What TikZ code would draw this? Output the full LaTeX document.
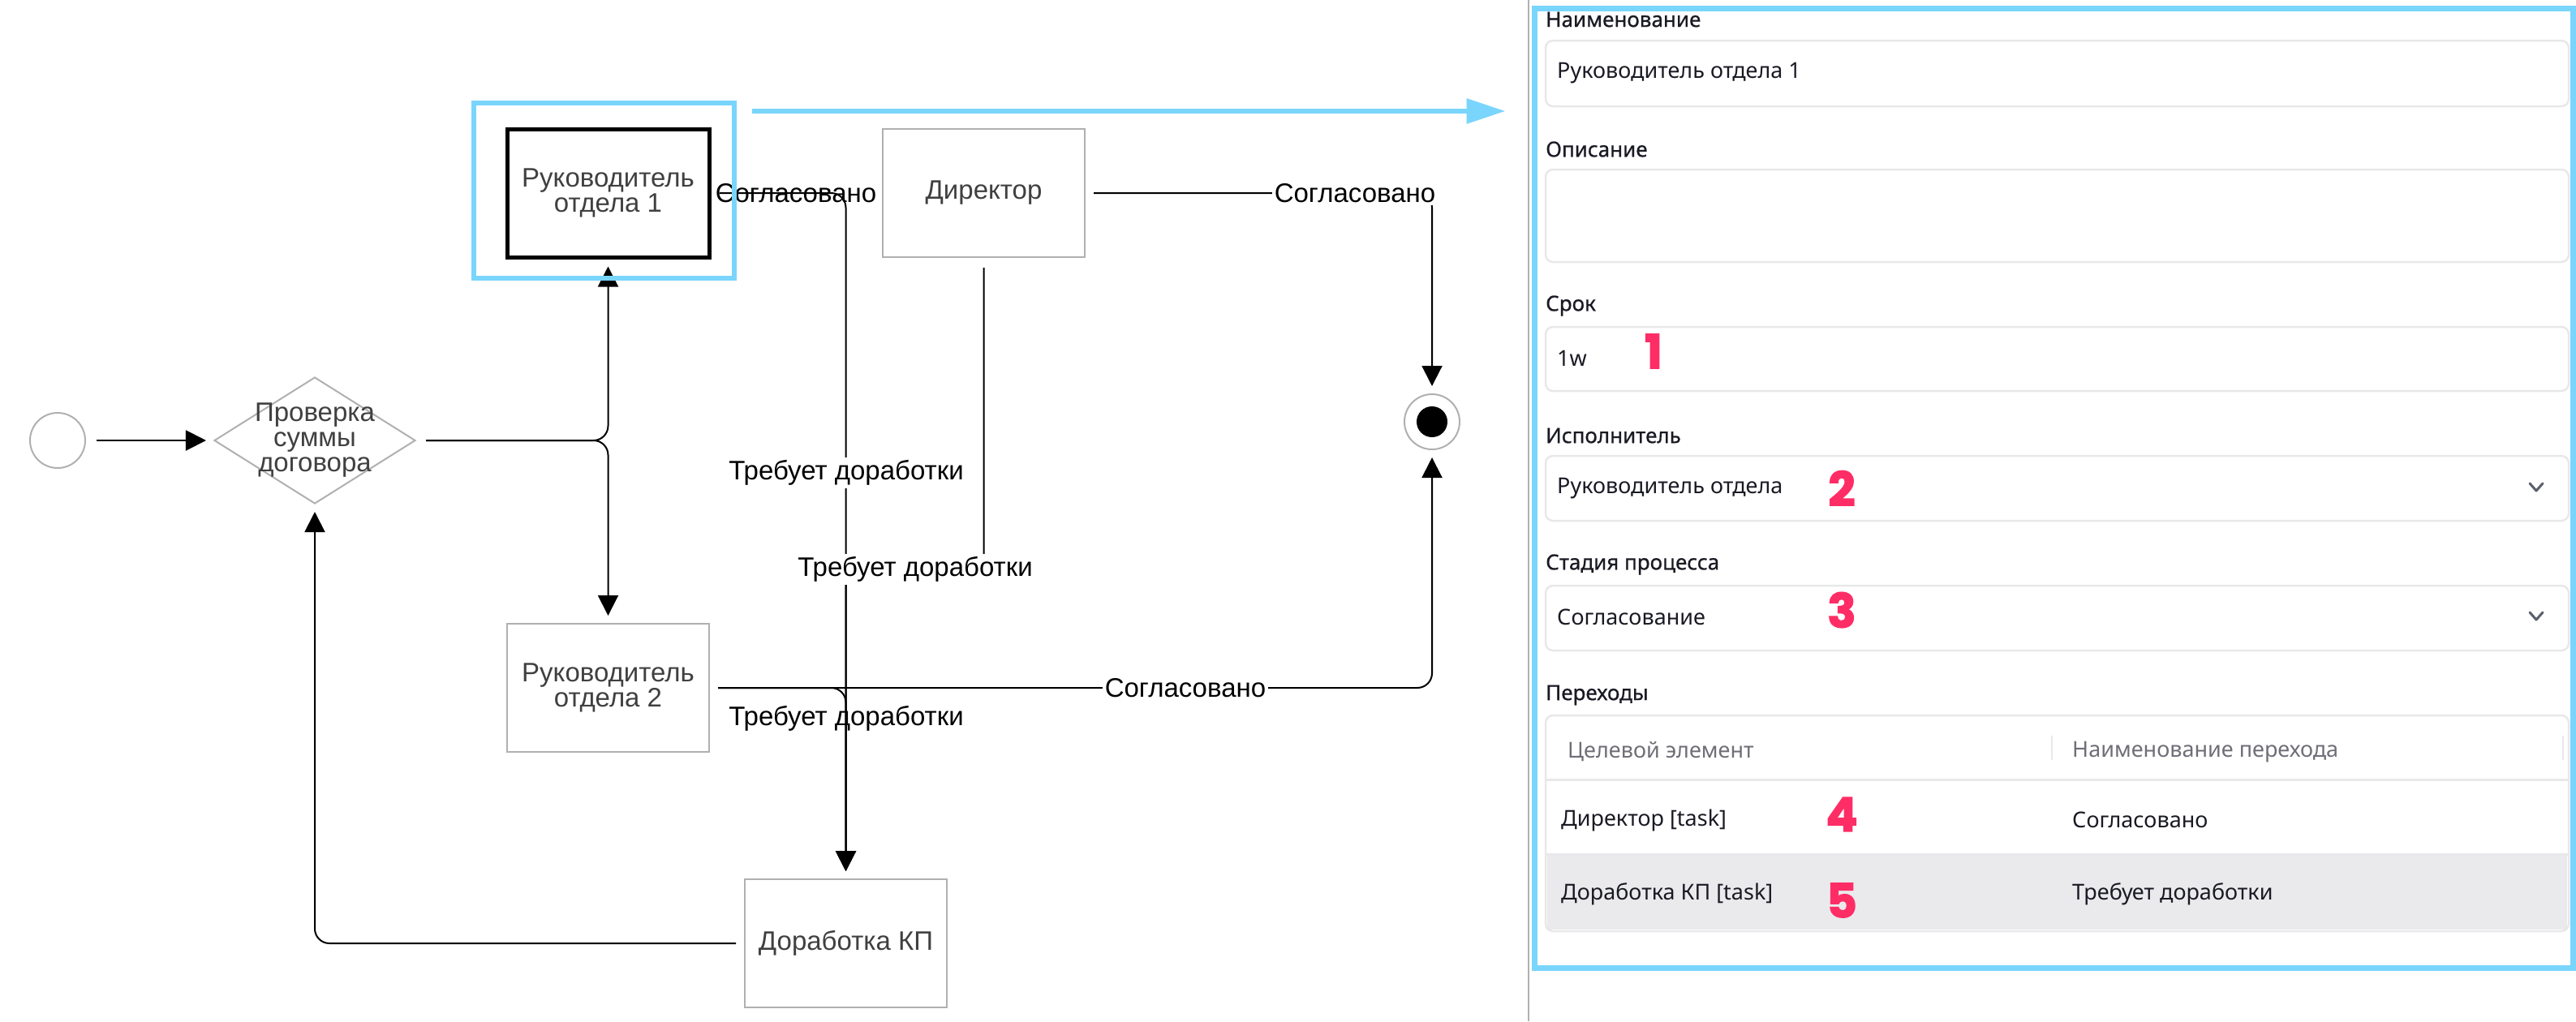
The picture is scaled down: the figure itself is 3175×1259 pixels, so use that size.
\documentclass[tikz,border=0pt]{standalone}
\usepackage{fontspec}
\setmainfont{Liberation Sans}
\newfontfamily\panelfont{Noto Sans}
\newfontfamily\panelheadfont{Noto Sans}[FakeBold=0.7]
\newfontfamily\badgefont{Poppins}[BoldFeatures={FakeBold=2.5}]
\usepackage{xcolor}
\usepackage{tikz}
\usetikzlibrary{arrows.meta,shapes.geometric}

\definecolor{hlblue}{RGB}{122,213,252}
\definecolor{shapegrey}{RGB}{176,176,176}
\definecolor{nodetext}{RGB}{64,64,64}
\definecolor{badgered}{RGB}{255,45,102}
\definecolor{fieldline}{RGB}{232,232,234}
\definecolor{rowgrey}{RGB}{234,234,237}
\definecolor{headtext}{RGB}{110,110,118}
\definecolor{paneltext}{RGB}{26,26,36}
\definecolor{chevron}{RGB}{92,96,108}

\tikzset{
	task/.style={draw=shapegrey, line width=2pt, minimum width=249pt, minimum height=158pt, inner sep=0pt, align=center, text=nodetext, font=\fontsize{33}{31}\selectfont},
	event/.style={circle, draw=shapegrey, line width=2pt, minimum size=68pt, inner sep=0pt},
	flow/.style={draw=black, line width=2pt, rounded corners=18pt, -{Triangle[length=25pt,width=25pt]}, shorten >=9pt, shorten <=10pt},
	lbl/.style={fill=white, inner sep=3pt, font=\fontsize{33}{35}\selectfont},
	field/.style={draw=fieldline, line width=2.5pt, rounded corners=9pt},
	fieldlbl/.style={anchor=west, inner sep=0pt, text=paneltext, font=\panelheadfont\fontsize{26}{28}\selectfont},
	fieldval/.style={anchor=west, inner sep=0pt, text=paneltext, font=\panelfont\fontsize{27}{29}\selectfont},
	badge/.style={inner sep=0pt, text=badgered, font=\badgefont\bfseries\fontsize{58}{58}\selectfont},
	chev/.style={draw=chevron, line width=3pt, line cap=round, line join=round}
}

\begin{document}
\begin{tikzpicture}[x=1pt,y=-1pt]
	\useasboundingbox (0,0) rectangle (3175,1259);

	\node(start) [event] at (71,543) {};
	\node(check) [diamond, draw=shapegrey, line width=2pt, minimum width=248pt, minimum height=156pt, inner sep=0pt, label={[text=nodetext, align=center, font=\fontsize{33}{31}\selectfont]center:Проверка\\суммы\\договора}] at (388,543) {};
	\node(head1) [task, draw=black, line width=5pt] at (749.5,238) {Руководитель\\отдела 1};
	\node(head2) [task] at (749.5,848) {Руководитель\\отдела 2};
	\node(director) [task] at (1212.5,238) {Директор};
	\node(rework) [task] at (1042.5,1163) {Доработка КП};
	\node(finish) [event] at (1765,520) {};
	\node(finishdot) [circle, fill=black, minimum size=38pt, inner sep=0pt] at (finish) {};

	\draw[flow, shorten <=13pt] (start) -- (check);
	\draw[flow, shorten <=12pt] (check) -| (head1);
	\draw[flow, shorten <=12pt] (check) -| (head2);
	\draw[flow] (head1) -- (director);
	\node(okA) [lbl] at (981,238) {Согласовано};
	\draw[flow] (head1) -| (rework);
	\coordinate(dirbend) at (1212.5,702);
	\draw[flow, shorten <=12pt] (director) -- (dirbend) -| (rework);
	\draw[flow] (director) -| (finish);
	\draw[flow] (head2) -| (finish);
	\node(reworkC) [lbl, fill=none] at (1043,886) {Требует доработки};
	\draw[flow] (head2) -| (rework);
	\draw[flow] (rework) -| (check);
	\node(okB) [lbl] at (1670,238) {Согласовано};
	\node(reworkA) [lbl] at (1043,583) {Требует доработки};
	\node(reworkB) [lbl] at (1128,702) {Требует доработки};
	\node(okC) [lbl] at (1461,848) {Согласовано};

	\node(focus) [draw=hlblue, line width=6pt, minimum width=321pt, minimum height=216pt, inner sep=0pt] at (744.5,235) {};
	\draw[shapegrey, line width=2pt] (1884,0) -- (1884,1259);
	\node(panel) [draw=hlblue, line width=7pt, minimum width=1280pt, minimum height=1183pt, inner sep=0pt] at (2531,601.5) {};
	\coordinate(jump) at (927,137);
	\draw[hlblue, line width=6pt, -{Triangle[length=48pt,width=30pt]}, shorten >=32pt] (jump) -- (jump -| panel.west);

	\draw[field] (1905,50) rectangle (3166,131);
	\draw[field] (1905,209) rectangle (3166,323);
	\draw[field] (1905,403) rectangle (3166,482);
	\draw[field] (1905,562) rectangle (3166,642);
	\draw[field] (1905,722) rectangle (3166,802);
	\fill[rowgrey] (1907,1055) rectangle (3164,1146);
	\draw[field] (1905,882) rectangle (3166,1148);
	\draw[fieldline, line width=3pt] (1905,961) -- (3166,961);
	\draw[fieldline, line width=3pt] (1905,1053) -- (3166,1053);
	\draw[fieldline, line width=1.5pt] (2529,907) -- (2529,937);
	\draw[fieldline, line width=1.5pt] (3159,907) -- (3159,937);
	\draw[chev] (3118,596) -- (3126,605) -- (3134,596);
	\draw[chev] (3118,755) -- (3126,764) -- (3134,755);

	\node(nameLbl) [fieldlbl] at (1905,24) {Наименование};
	\node(nameVal) [fieldval] at (1919,90) {Руководитель отдела 1};
	\node(descLbl) [fieldlbl] at (1905,184) {Описание};
	\node(termLbl) [fieldlbl] at (1905,377) {Срок};
	\node(termVal) [fieldval] at (1919,442) {1w};
	\node(execLbl) [fieldlbl] at (1905,537) {Исполнитель};
	\node(execVal) [fieldval] at (1919,602) {Руководитель отдела};
	\node(stageLbl) [fieldlbl] at (1905,696) {Стадия процесса};
	\node(stageVal) [fieldval] at (1919,761) {Согласование};
	\node(transLbl) [fieldlbl] at (1905,857) {Переходы};
	\node(colTarget) [fieldval, text=headtext] at (1932,927) {Целевой элемент};
	\node(colName) [fieldval, text=headtext] at (2554,927) {Наименование перехода};
	\node(row1Target) [fieldval] at (1924,1011) {Директор [task]};
	\node(row1Name) [fieldval] at (2554,1011) {Согласовано};
	\node(row2Target) [fieldval] at (1924,1102) {Доработка КП [task]};
	\node(row2Name) [fieldval] at (2554,1102) {Требует доработки};

	\node(badge1) [badge] at (2038,433) {1};
	\node(badge2) [badge] at (2270,602) {2};
	\node(badge3) [badge] at (2270,752) {3};
	\node(badge4) [badge] at (2270,1004) {4};
	\node(badge5) [badge] at (2270,1110) {5};
\end{tikzpicture}
\end{document}
